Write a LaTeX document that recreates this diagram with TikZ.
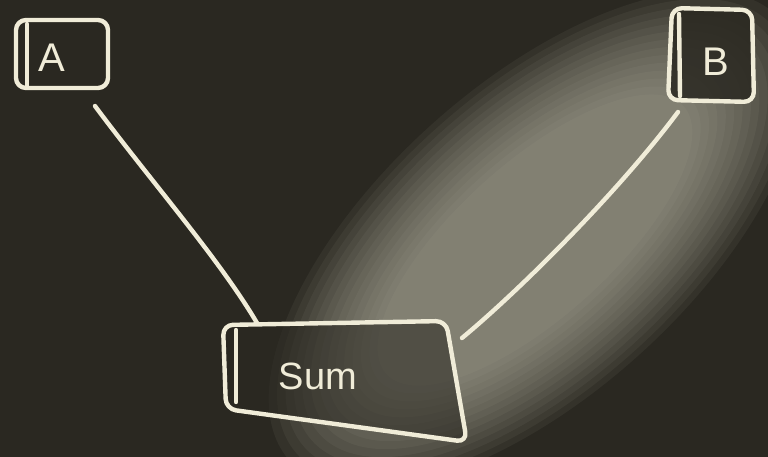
\documentclass[tikz,border=0pt]{standalone}
\usepackage{fontspec}
\setmainfont{Liberation Sans}
\definecolor{board}{RGB}{42,40,33}
\definecolor{chalk}{RGB}{240,236,216}
\definecolor{smear}{RGB}{185,185,165}
\begin{document}
\begin{tikzpicture}[x=1pt,y=-1pt,
  chalkline/.style={draw=chalk,line width=4.4pt,line cap=round,line join=round},
  chalkbox/.style={chalkline,rounded corners=10pt},
  letter/.style={text=chalk,font=\fontsize{40}{40}\selectfont}]
\fill[board] (0,0) rectangle (768,457);
\useasboundingbox (0,0) rectangle (768,457);
% chalk smear
\begin{scope}[shift={(535,240)},rotate=42]
\foreach \i in {0,...,13}{
  \pgfmathsetmacro{\a}{330-\i*10}
  \pgfmathsetmacro{\b}{155-\i*6}
  \fill[smear,opacity=0.07] (0,0) ellipse ({\a pt} and {\b pt});
}
\end{scope}
% boxes
\draw[chalkbox,fill=board] (16,20) -- (108,20) -- (108,88) -- (16,88) -- cycle;
\draw[chalkline] (27,24) -- (27,86);
\node[letter] (A) at (52,58) {A};
\coordinate (Abox) at (95,106);
\draw[chalkbox,fill=board,fill opacity=0.85] (672,8) -- (752,10) -- (754,102) -- (668,100) -- cycle;
\draw[chalkline] (679,14) -- (680,96);
\node[letter] (B) at (716,62) {B};
\coordinate (Bbox) at (678,112);
\draw[chalkbox,fill=board,fill opacity=0.55] (223,325) -- (446,321) -- (467,442) -- (226,409) -- cycle;
\draw[chalkline] (236,330) -- (236,402);
\node[text=chalk,font=\fontsize{38}{38}\selectfont] (S) at (318,376) {Sum};
\coordinate (Stop) at (257,323);
\coordinate (Sright) at (462,338);
\draw[chalkline] (Abox) .. controls (150,180) and (220,260) .. (Stop);
\draw[chalkline] (Bbox) .. controls (620,190) and (520,290) .. (Sright);
\end{tikzpicture}
\end{document}
